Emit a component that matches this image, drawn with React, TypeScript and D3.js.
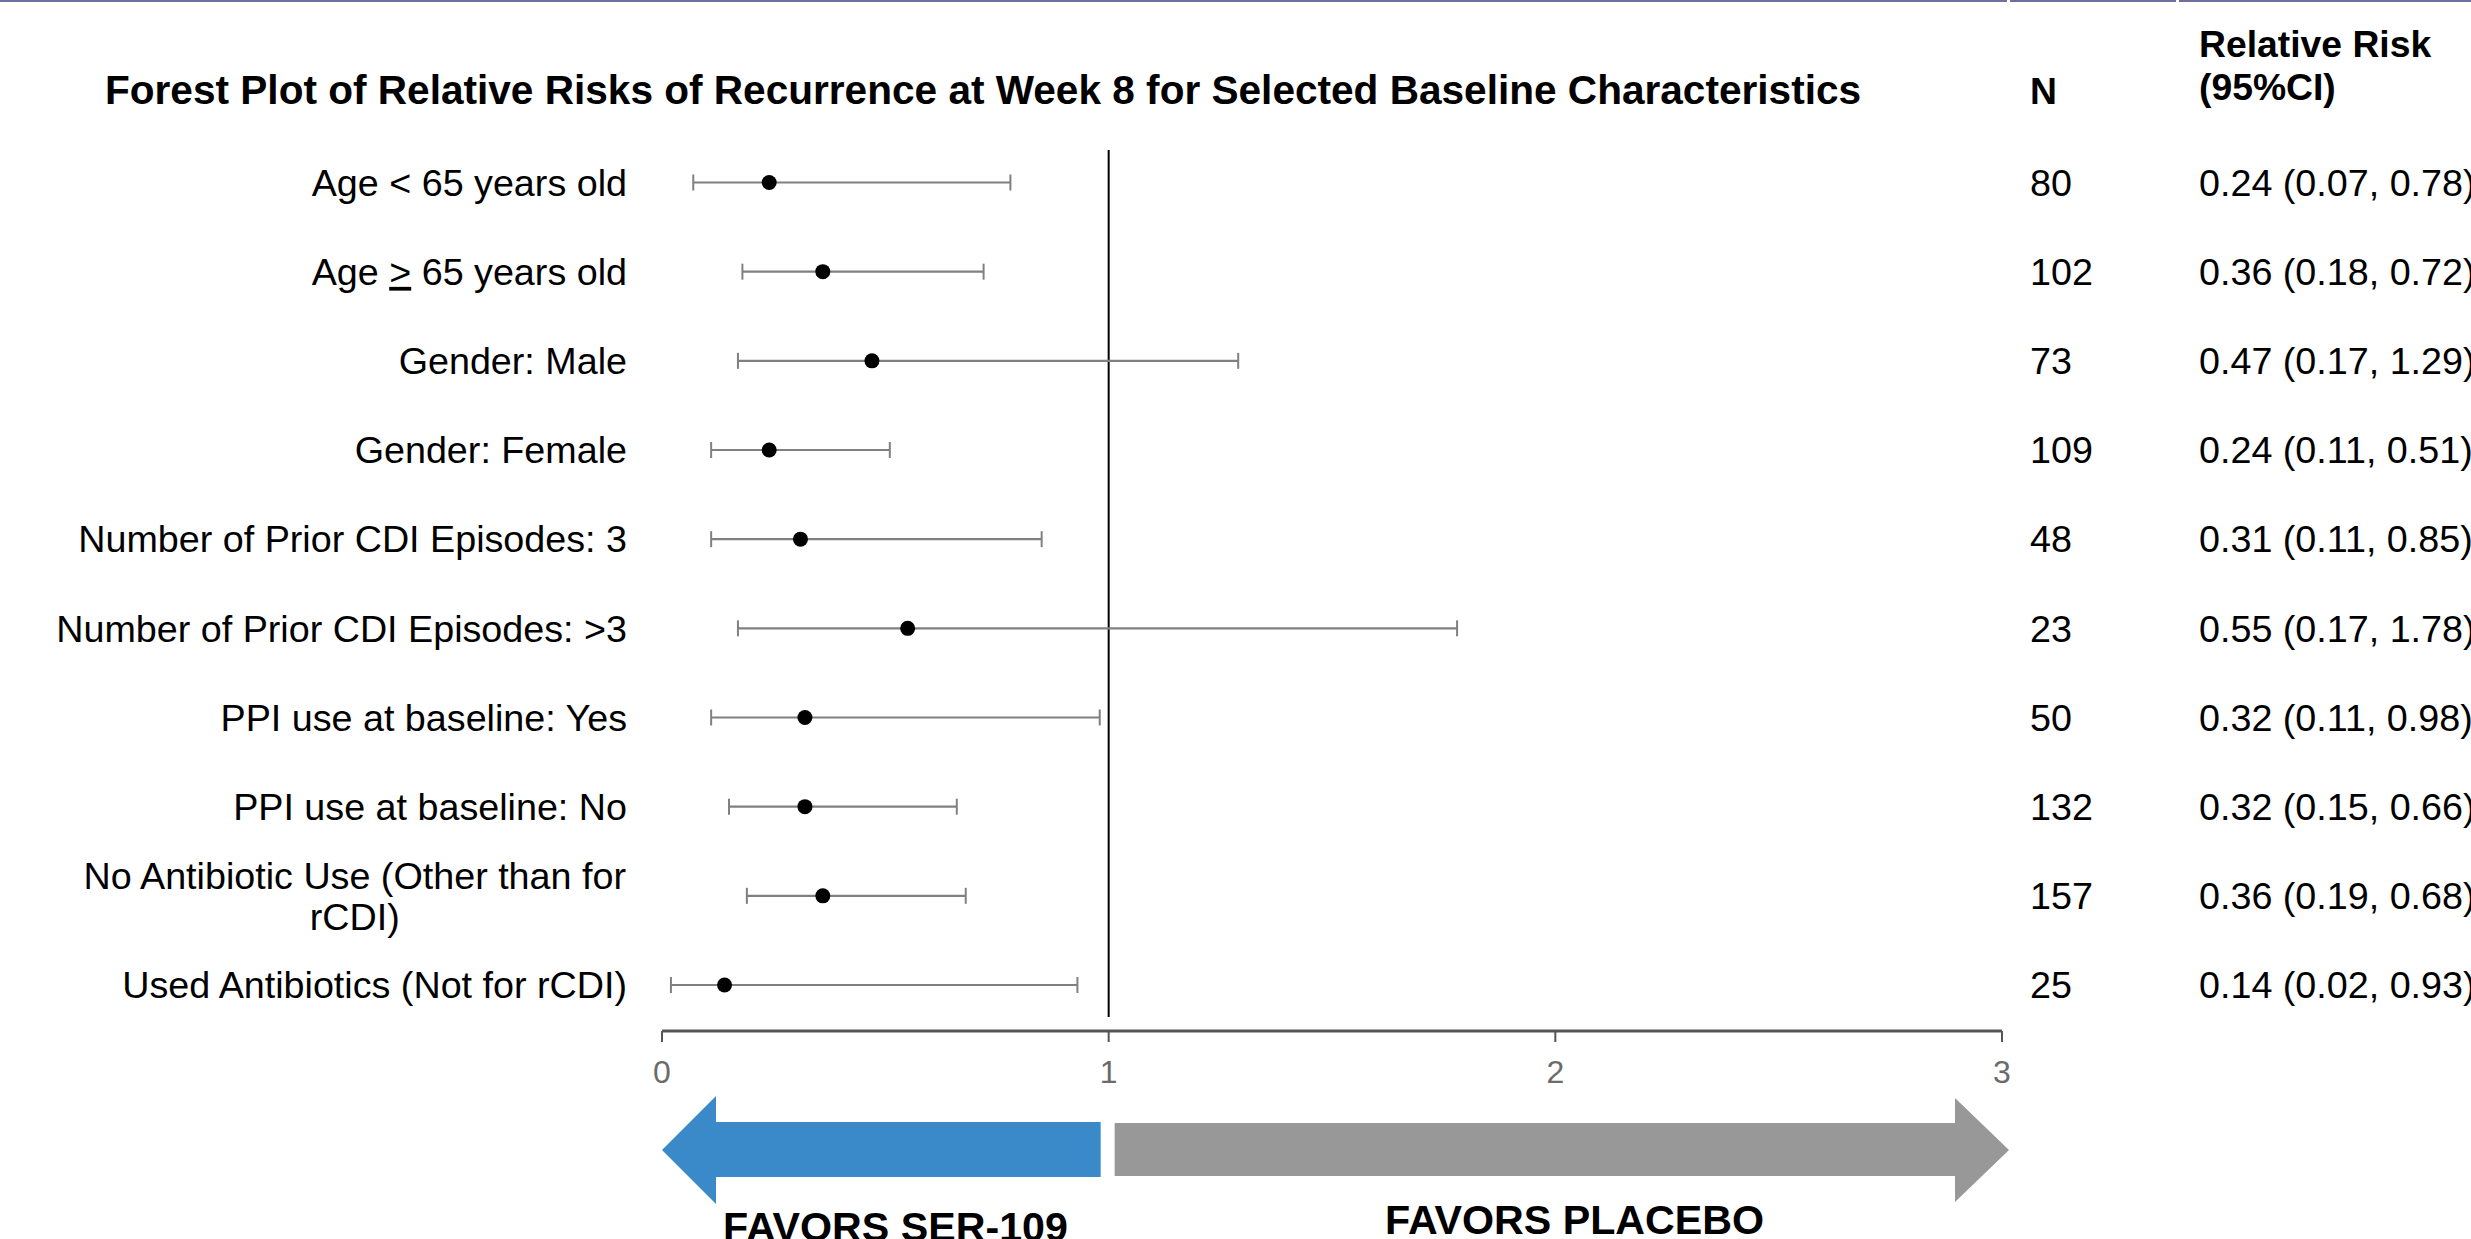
import React from "react";
import * as d3 from "d3";

const categories: string[][] = [
  ["Age < 65 years old"],
  ["Age \u2265 65 years old"],
  ["Gender: Male"],
  ["Gender: Female"],
  ["Number of Prior CDI Episodes: 3"],
  ["Number of Prior CDI Episodes: >3"],
  ["PPI use at baseline: Yes"],
  ["PPI use at baseline: No"],
  ["No Antibiotic Use (Other than for", "rCDI)"],
  ["Used Antibiotics (Not for rCDI)"],
];
const nValues = [80, 102, 73, 109, 48, 23, 50, 132, 157, 25];
const rr = [0.24, 0.36, 0.47, 0.24, 0.31, 0.55, 0.32, 0.32, 0.36, 0.14];
const ciLow = [0.07, 0.18, 0.17, 0.11, 0.11, 0.17, 0.11, 0.15, 0.19, 0.02];
const ciHigh = [0.78, 0.72, 1.29, 0.51, 0.85, 1.78, 0.98, 0.66, 0.68, 0.93];
const xTicks = [0, 1, 2, 3];

const W = 2471;
const H = 1239;
const FONT = "'Liberation Sans', Arial, sans-serif";
const LABEL_SIZE = 37.7;

function measure(text: string, font: string): number {
  const c = document.createElement("canvas");
  const ctx = c.getContext("2d");
  if (!ctx) return text.length * 18;
  ctx.font = font;
  return ctx.measureText(text).width;
}

function renderLabel(s: string) {
  // render "≥" as an underlined ">" like the reference
  const idx = s.indexOf("\u2265");
  if (idx < 0) return s;
  return (
    <>
      {s.slice(0, idx)}
      <tspan textDecoration="underline">{">"}</tspan>
      {s.slice(idx + 1)}
    </>
  );
}

export default function App() {
  const x = d3.scaleLinear().domain([0, 3]).range([662, 2002]);
  const y = d3
    .scalePoint<number>()
    .domain(d3.range(categories.length))
    .range([182.5, 985]);

  const labelRight = 627;
  const axisY = 1031;
  const fmt = d3.format(".2f");

  return (
    <svg
      width={W}
      height={H}
      style={{ position: "absolute", left: 0, top: 0, display: "block", background: "#fff" }}
      fontFamily={FONT}
    >
      {/* top border */}
      <rect x={0} y={0} width={2007} height={2} fill="#6f6f9f" />
      <rect x={2010} y={0} width={166} height={2} fill="#6f6f9f" />
      <rect x={2179} y={0} width={W - 2179} height={2} fill="#6f6f9f" />

      {/* title */}
      <text x={105} y={104} fontSize={40.6} fontWeight="bold" fill="#000">
        Forest Plot of Relative Risks of Recurrence at Week 8 for Selected Baseline Characteristics
      </text>
      <text x={2030} y={104} fontSize={37.3} fontWeight="bold" fill="#000">N</text>
      <text x={2199} y={57} fontSize={37.3} fontWeight="bold" fill="#000">Relative Risk</text>
      <text x={2199} y={100} fontSize={37.3} fontWeight="bold" fill="#000">(95%CI)</text>

      {/* reference line */}
      <line x1={x(1)} x2={x(1)} y1={150} y2={1017} stroke="#000" strokeWidth={2} />

      {categories.map((lines, i) => {
        const cy = y(i) as number;
        let labelEl;
        if (lines.length === 1) {
          labelEl = (
            <text x={labelRight} y={cy} dy="0.35em" textAnchor="end" fontSize={LABEL_SIZE} fill="#000">
              {renderLabel(lines[0])}
            </text>
          );
        } else {
          const w1 = measure(lines[0], `${LABEL_SIZE}px ${FONT}`);
          const cx = labelRight - w1 / 2;
          labelEl = (
            <text textAnchor="middle" fontSize={LABEL_SIZE} fill="#000">
              {lines.map((ln, k) => (
                <tspan key={k} x={cx} y={cy + (k - (lines.length - 1) / 2) * 41} dy="0.35em">
                  {ln}
                </tspan>
              ))}
            </text>
          );
        }
        return (
          <g key={i}>
            {labelEl}
            <line x1={x(ciLow[i])} x2={x(ciHigh[i])} y1={cy} y2={cy} stroke="#808080" strokeWidth={2.2} />
            <line x1={x(ciLow[i])} x2={x(ciLow[i])} y1={cy - 8} y2={cy + 8} stroke="#808080" strokeWidth={2} />
            <line x1={x(ciHigh[i])} x2={x(ciHigh[i])} y1={cy - 8} y2={cy + 8} stroke="#808080" strokeWidth={2} />
            <circle cx={x(rr[i])} cy={cy} r={7.5} fill="#000" />
            <text x={2030} y={cy} dy="0.35em" fontSize={LABEL_SIZE} fill="#000">
              {nValues[i]}
            </text>
            <text x={2199} y={cy} dy="0.35em" fontSize={LABEL_SIZE} fill="#000">
              {`${fmt(rr[i])} (${fmt(ciLow[i])}, ${fmt(ciHigh[i])})`}
            </text>
          </g>
        );
      })}

      {/* x axis */}
      <line x1={x(0)} x2={x(3)} y1={axisY} y2={axisY} stroke="#555" strokeWidth={3} />
      {xTicks.map((t) => (
        <g key={t}>
          <line x1={x(t)} x2={x(t)} y1={axisY} y2={axisY + 11} stroke="#555" strokeWidth={2} />
          <text x={x(t)} y={1072} dy="0.35em" textAnchor="middle" fontSize={32} fill="#6b6b6b">
            {t}
          </text>
        </g>
      ))}

      {/* arrows */}
      <polygon
        points={[
          [x(0), 1150],
          [x(0) + 54, 1096],
          [x(0) + 54, 1122],
          [x(1) - 8, 1122],
          [x(1) - 8, 1177],
          [x(0) + 54, 1177],
          [x(0) + 54, 1204],
        ]
          .map((p) => p.join(","))
          .join(" ")}
        fill="#3a89c9"
      />
      <polygon
        points={[
          [x(3) + 7, 1150],
          [x(3) - 47, 1098],
          [x(3) - 47, 1123],
          [x(1) + 6, 1123],
          [x(1) + 6, 1176],
          [x(3) - 47, 1176],
          [x(3) - 47, 1202],
        ]
          .map((p) => p.join(","))
          .join(" ")}
        fill="#989898"
      />
      <text x={723} y={1241} fontSize={41.2} fontWeight="bold" fill="#000">FAVORS SER-109</text>
      <text x={1385} y={1234} fontSize={41.2} fontWeight="bold" fill="#000">FAVORS PLACEBO</text>
    </svg>
  );
}
